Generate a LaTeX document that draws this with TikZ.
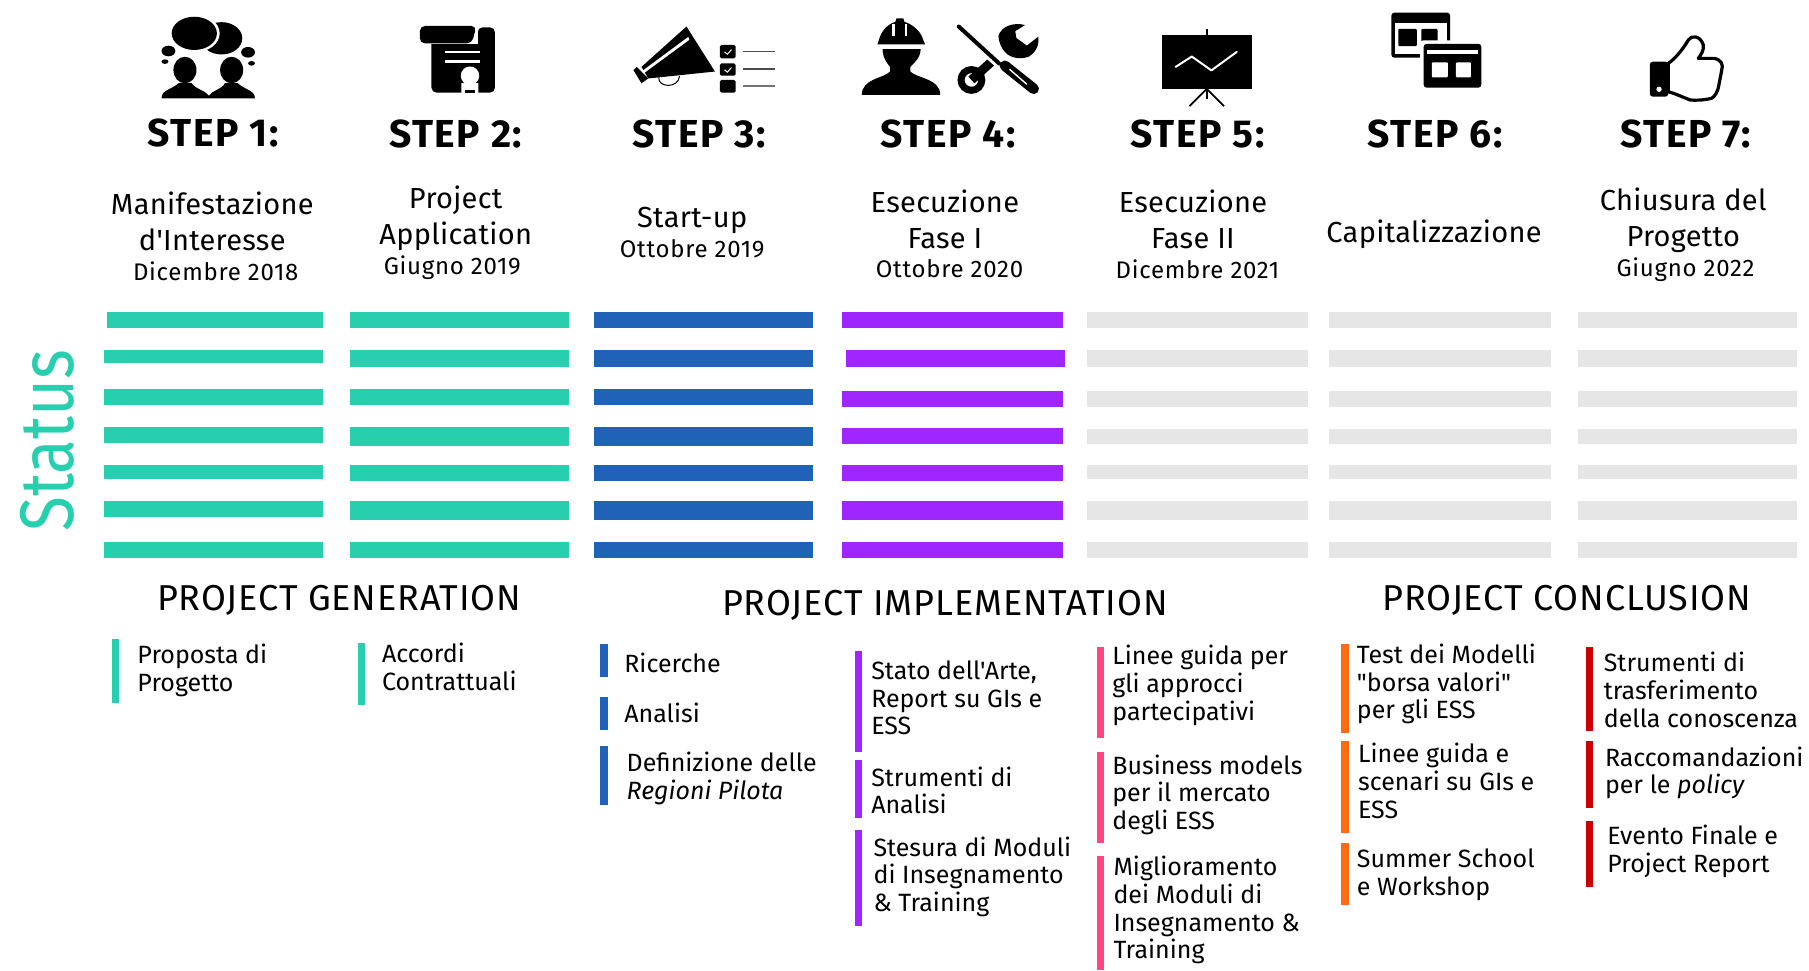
\documentclass[tikz,border=0pt]{standalone}
\usepackage{fontspec}
\usepackage{xcolor}
\setmainfont{Fira Sans}[Ligatures=TeXOff]
\definecolor{genteal}{HTML}{28CFAF}
\definecolor{startblue}{HTML}{1F62B8}
\definecolor{execpurple}{HTML}{A026FF}
\definecolor{execpink}{HTML}{FF4785}
\definecolor{closeorange}{HTML}{FF6A13}
\definecolor{closered}{HTML}{CC0000}
\definecolor{todogray}{HTML}{E6E6E6}
\begin{document}
\begin{tikzpicture}[x=1.1537pt,y=-1.1537pt]
			\tikzstyle{every node}+=[inner sep=0pt]
			\tikzstyle{steplabel}=[font=\fontsize{39}{39}\selectfont\bfseries\addfontfeatures{LetterSpace=4}]
			\tikzstyle{phaselabel}=[align=center,font=\fontsize{29}{36.5}\selectfont\addfontfeatures{LetterSpace=1}]
			\tikzstyle{datelabel}=[font=\fontsize{24}{24}\selectfont\addfontfeatures{LetterSpace=3}]
			\tikzstyle{grouplabel}=[font=\fontsize{36}{36}\selectfont\addfontfeatures{LetterSpace=2.5}]
			\tikzstyle{itemlabel}=[anchor=west,align=left,font=\fontsize{25}{27.7}\selectfont]
			\useasboundingbox (0,0) rectangle (1568,841);

			\fill [black] (192,33.2) ellipse (18 and 14);
			\fill [white] (168.4,28.9) ellipse (22 and 16.5);
			\fill [black] (168.4,28.9) ellipse (19.6 and 14.4);
			\fill [black] (146,44.2) ellipse (6 and 4.6);
			\fill [black] (215,45.3) ellipse (6 and 4.6);
			\fill [black] (143,53.4) ellipse (3 and 2);
			\fill [black] (218,54.9) ellipse (3 and 2);
			\fill [black] (160.3,60.7) ellipse (10 and 11.5);
			\fill [black] (140,85.2) .. controls (140,78) and (148,78) .. (155,72) -- (166,72) .. controls (170,78) and (178,78) .. (181,83) -- (181,85.2) -- cycle;
			\fill [black] (200.8,60.7) ellipse (10 and 11.5);
			\fill [black] (181,83) .. controls (184,78) and (192,78) .. (195,72) -- (206,72) .. controls (212,78) and (221,78) .. (221,85.2) -- (181,85.2) -- cycle;

			\fill [black, rounded corners=5] (374,30) rectangle (429,80.3);
			\fill [black, rounded corners=5] (414,23.7) rectangle (429,45);
			\fill [white] (374,30) rectangle (412,38.5);
			\fill [white] (410,23) rectangle (414.6,38.5);
			\fill [black, rounded corners=5] (364,22.5) -- (413,22.5) -- (409,37.6) -- (364,37.6) -- cycle;
			\fill [white] (385.7,43.8) rectangle (416,45.8);
			\fill [white] (385.7,52.4) rectangle (416,54.4);
			\fill [white] (400,72) -- (414.6,72) -- (414.6,84.4) -- (407.4,80.5) -- (400,84.4) -- cycle;
			\fill [black] (403,80.3) -- (412,80.3) -- (412,78) -- (403,78) -- cycle;
			\fill [white] (407.4,65.6) circle (8);

			\fill [black] (595,23) -- (619.7,62) -- (562,68) -- (556,58) -- cycle;
			\fill [black] (549,60.7) -- (552,58) -- (562,68) -- (556,72.2) -- cycle;
			\fill [white] (556,62) -- (596.6,32) -- (597.5,34.5) -- (558,63.5) -- cycle;
			\draw [black, line width=1pt] (571,67) .. controls (570,76) and (588,77) .. (589,66);
			\fill [black, rounded corners=1.5] (624,39) rectangle (637.6,50.5);
			\fill [black, rounded corners=1.5] (624,55) rectangle (637.6,65.6);
			\fill [black, rounded corners=1.5] (624,69.3) rectangle (637.6,80.3);
			\draw [white, line width=1pt] (628,45) -- (630.5,47) -- (634,43);
			\draw [white, line width=1pt] (628,60.5) -- (630.5,62.5) -- (634,58.5);
			\draw [black!70, line width=1.6pt] (644,44.8) -- (672,44.8);
			\draw [black!70, line width=1.6pt] (644,59.8) -- (672,59.8);
			\draw [black!55, line width=1.6pt] (644,74.5) -- (672,74.5);

			\fill [black] (760.5,38.5) -- (762,34) .. controls (764,27) and (769,21) .. (776,19) -- (777,16) -- (783,16) -- (784,19) .. controls (791,21) and (798,27) .. (800,34) -- (801.8,38.5) -- cycle;
			\fill [white] (773.5,21) rectangle (775.5,31);
			\fill [white] (784.5,21) rectangle (786.5,31);
			\fill [black] (765,42.5) -- (798,42.5) .. controls (798,50) and (792,55) .. (789,58) -- (789,62) .. controls (795,68) and (815,68) .. (815,82.3) -- (747,82.3) .. controls (747,68) and (766,68) .. (771.5,62) -- (771.5,58) .. controls (769,55) and (765,50) .. (765,42.5) -- cycle;
			\draw [black, line width=9pt] (842,69.3) -- (860,53);
			\fill [black] (888.5,21.7) .. controls (878,19) and (868,23) .. (865.4,31) .. controls (866,38) and (868,42) .. (872,46) .. controls (876,50) and (884,52) .. (892,49) .. controls (897,46) and (901,40) .. (900,31.8) -- (890,39.5) -- (881,33) -- (880,27) -- cycle;
			\draw [black, line width=7pt] (842,69.3) circle (9);
			\draw [white, line width=7.5pt] (840,33) -- (868,58);
			\draw [black, line width=4pt, line cap=round] (831,23) -- (866,55);
			\draw [black, line width=10.5pt, line cap=round] (871,57) -- (896,77);
			\draw [white, line width=1.4pt] (875,60) -- (890,73);

			\draw [black, line width=1.6pt] (1046,25) -- (1046,30);
			\fill [black] (1007,30) rectangle (1085,77);
			\draw [black, line width=1.8pt] (1046,77) -- (1031,92);
			\draw [black, line width=1.8pt] (1046,77) -- (1046,86);
			\draw [black, line width=1.8pt] (1046,77) -- (1061,92);
			\draw [white, line width=2pt, line join=round, line cap=round] (1019,58) -- (1033,49) -- (1050,61) -- (1072,45);

			\fill [black, rounded corners=3] (1206,11) rectangle (1257,50);
			\fill [white] (1209,20) rectangle (1254,47);
			\fill [black, rounded corners=1] (1212,25) rectangle (1228,40);
			\fill [black, rounded corners=1] (1232,25) rectangle (1246,40);
			\fill [white, rounded corners=3] (1231,35) rectangle (1287,78);
			\fill [black, rounded corners=3] (1234,38) rectangle (1284,76);
			\fill [white] (1237,43) rectangle (1281,47);
			\fill [white, rounded corners=1] (1241,54) rectangle (1255,67);
			\fill [white, rounded corners=1] (1262,54) rectangle (1275,67);

			\draw [black, line width=3.2pt, line join=round] (1446,55) .. controls (1453,50) and (1459,42) .. (1463.4,34.7) .. controls (1466,30) and (1474,31) .. (1476.4,39) .. controls (1477,44) and (1474,48) .. (1472,50.6) -- (1486,50.6) .. controls (1492,52) and (1494,56) .. (1492.3,61) -- (1490,73) .. controls (1489,80) and (1486,84) .. (1483.6,85.2) .. controls (1476,87) and (1470,87) .. (1465,86.7) .. controls (1458,84) and (1452,81) .. (1446,79.5) -- cycle;
			\fill [black, rounded corners=3] (1430,53.5) rectangle (1446,83.8);
			\fill [white] (1438,77.4) circle (2.3);

			\draw (185,115) node (step1) [steplabel] {STEP 1:};
			\draw (395,116) node (step2) [steplabel] {STEP 2:};
			\draw (606,116) node (step3) [steplabel] {STEP 3:};
			\draw (822,116) node (step4) [steplabel] {STEP 4:};
			\draw (1038,116) node (step5) [steplabel] {STEP 5:};
			\draw (1244,116) node (step6) [steplabel] {STEP 6:};
			\draw (1461,116) node (step7) [steplabel] {STEP 7:};

			\draw (184,192) node (phase1) [phaselabel] {Manifestazione\\d'Interesse};
			\draw (187,235) node (date1) [datelabel] {Dicembre 2018};
			\draw (395,189) node (phase2) [phaselabel] {Project\\Application};
			\draw (392,232) node (date2) [datelabel] {Giugno 2019};
			\draw (600,191) node (phase3) [phaselabel] {Start-up};
			\draw (600,216) node (date3) [datelabel] {Ottobre 2019};
			\draw (819,190) node (phase4) [phaselabel] {Esecuzione\\Fase I};
			\draw (823,233) node (date4) [datelabel] {Ottobre 2020};
			\draw (1034,190) node (phase5) [phaselabel] {Esecuzione\\Fase II};
			\draw (1038,233) node (date5) [datelabel] {Dicembre 2021};
			\draw (1243,203) node (phase6) [phaselabel] {Capitalizzazione};
			\draw (1459,191) node (phase7) [phaselabel] {Chiusura del\\Progetto};
			\draw (1461,234) node (date7) [datelabel] {Giugno 2022};

			\draw (41,382) node (status) [rotate=90,text=genteal,font=\fontsize{76}{76}\selectfont\addfontfeatures{FakeStretch=0.84}] {Status};

			\fill [genteal] (93,270) rectangle (280,284);
			\fill [genteal] (90,303) rectangle (280,315);
			\fill [genteal] (90,337) rectangle (280,351);
			\fill [genteal] (90,370) rectangle (280,384);
			\fill [genteal] (90,403) rectangle (280,415);
			\fill [genteal] (90,434) rectangle (280,448);
			\fill [genteal] (90,470) rectangle (280,484);
			\fill [genteal] (303,270) rectangle (493,284);
			\fill [genteal] (303,303) rectangle (493,318);
			\fill [genteal] (303,337) rectangle (493,351);
			\fill [genteal] (303,370) rectangle (493,387);
			\fill [genteal] (303,403) rectangle (493,417);
			\fill [genteal] (303,434) rectangle (493,451);
			\fill [genteal] (303,470) rectangle (493,484);
			\fill [startblue] (515,270) rectangle (705,284);
			\fill [startblue] (515,303) rectangle (705,318);
			\fill [startblue] (515,337) rectangle (705,351);
			\fill [startblue] (515,370) rectangle (705,387);
			\fill [startblue] (515,403) rectangle (705,417);
			\fill [startblue] (515,434) rectangle (705,451);
			\fill [startblue] (515,470) rectangle (705,484);
			\fill [execpurple] (730,270) rectangle (921,284);
			\fill [execpurple] (733,303) rectangle (923,318);
			\fill [execpurple] (730,339) rectangle (921,353);
			\fill [execpurple] (730,371) rectangle (921,385);
			\fill [execpurple] (730,403) rectangle (921,417);
			\fill [execpurple] (730,434) rectangle (921,451);
			\fill [execpurple] (730,470) rectangle (921,484);
			\fill [todogray] (942,270) rectangle (1134,284);
			\fill [todogray] (942,303) rectangle (1134,318);
			\fill [todogray] (942,339) rectangle (1134,353);
			\fill [todogray] (942,372) rectangle (1134,385);
			\fill [todogray] (942,403) rectangle (1134,415);
			\fill [todogray] (942,434) rectangle (1134,451);
			\fill [todogray] (942,470) rectangle (1134,484);
			\fill [todogray] (1152,270) rectangle (1344,284);
			\fill [todogray] (1152,303) rectangle (1344,318);
			\fill [todogray] (1152,339) rectangle (1344,353);
			\fill [todogray] (1152,372) rectangle (1344,385);
			\fill [todogray] (1152,403) rectangle (1344,415);
			\fill [todogray] (1152,434) rectangle (1344,451);
			\fill [todogray] (1152,470) rectangle (1344,484);
			\fill [todogray] (1368,270) rectangle (1558,284);
			\fill [todogray] (1368,303) rectangle (1558,318);
			\fill [todogray] (1368,339) rectangle (1558,353);
			\fill [todogray] (1368,372) rectangle (1558,385);
			\fill [todogray] (1368,403) rectangle (1558,415);
			\fill [todogray] (1368,434) rectangle (1558,451);
			\fill [todogray] (1368,470) rectangle (1558,484);

			\draw (294,520) node (generation) [grouplabel] {PROJECT GENERATION};
			\draw (819,525) node (implementation) [grouplabel] {PROJECT IMPLEMENTATION};
			\draw (1358,520) node (conclusion) [grouplabel] {PROJECT CONCLUSION};

			\fill [genteal] (97,554) rectangle (103,609);
			\fill [genteal] (310,557) rectangle (316,611);
			\fill [startblue] (520,558) rectangle (527,587);
			\fill [startblue] (520,604) rectangle (527,633);
			\fill [startblue] (520,647) rectangle (527,698);
			\fill [execpurple] (741,564) rectangle (747,652);
			\fill [execpurple] (741,659) rectangle (747,709);
			\fill [execpurple] (741,719) rectangle (747,803);
			\fill [execpink] (951,561) rectangle (957,640);
			\fill [execpink] (951,652) rectangle (957,731);
			\fill [execpink] (951,742) rectangle (957,841);
			\fill [closeorange] (1162,558) rectangle (1169,635);
			\fill [closeorange] (1162,642) rectangle (1169,722);
			\fill [closeorange] (1162,731) rectangle (1169,784);
			\fill [closered] (1375,561) rectangle (1381,634);
			\fill [closered] (1375,642) rectangle (1381,700);
			\fill [closered] (1375,712) rectangle (1381,769);

			\draw (119,581) node (proposta) [itemlabel] {Proposta di\\Progetto};
			\draw (331,578) node (accordi) [itemlabel] {Accordi\\Contrattuali};
			\draw (541,575) node (ricerche) [itemlabel] {Ricerche};
			\draw (541,618) node (analisi) [itemlabel] {Analisi};
			\draw (543,675) node (definizione) [itemlabel] {Definizione delle\\\textit{Regioni Pilota}};
			\draw (755,605) node (stato) [itemlabel] {Stato dell'Arte,\\Report su GIs e\\ESS};
			\draw (755,685) node (strumenti) [itemlabel] {Strumenti di\\Analisi};
			\draw (757,760) node (stesura) [itemlabel] {Stesura di Moduli\\di Insegnamento\\\& Training};
			\draw (964,594) node (linee) [itemlabel] {Linee guida per\\gli approcci\\partecipativi};
			\draw (964,689) node (business) [itemlabel] {Business models\\per il mercato\\degli ESS};
			\draw (965,789) node (miglioramento) [itemlabel] {Miglioramento\\dei Moduli di\\Insegnamento \&\\Training};
			\draw (1176,593) node (test) [itemlabel] {Test dei Modelli\\"borsa valori"\\per gli ESS};
			\draw (1177,677) node (scenari) [itemlabel] {Linee guida e\\scenari su GIs e\\ESS};
			\draw (1176,758) node (summer) [itemlabel] {Summer School\\e Workshop};
			\draw (1390,598) node (trasferimento) [itemlabel] {Strumenti di\\trasferimento\\della conoscenza};
			\draw (1391,670) node (raccomandazioni) [itemlabel] {Raccomandazioni\\per le \textit{policy}};
			\draw (1393,738) node (evento) [itemlabel] {Evento Finale e\\Project Report};
		\end{tikzpicture}
\end{document}
